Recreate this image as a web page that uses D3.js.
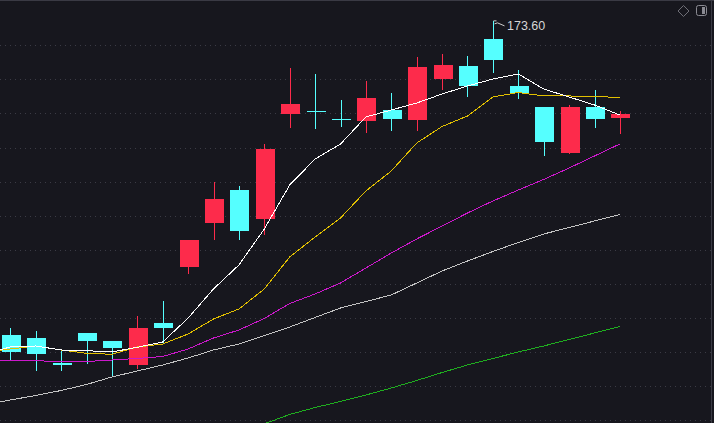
<!DOCTYPE html>
<html>
<head>
<meta charset="utf-8">
<title>K-Line</title>
<style>
  html, body { margin: 0; padding: 0; background: #17171e; overflow: hidden; }
  svg { display: block; }
</style>
</head>
<body>
<svg id="svg" width="714" height="423"></svg>
<script src="https://d3js.org/d3.v7.min.js"></script>
<script>
// candles, oldest first
const opens  = [63.03, 61.97, 53.17, 63.73, 60.92, 52.47, 67.25, 87.07, 102.56, 114.07, 103.86, 140.93, 141.95, 139.17, 138.46, 142.23, 138.82, 153.14, 157.72, 167.22, 150.68, 143.29, 127.20, 143.29, 139.52]
const closes = [57.15, 56.45, 52.47, 60.92, 58.56, 65.49, 65.49, 96.47, 110.90, 99.74, 128.50, 144.34, 141.74, 138.96, 146.45, 139.17, 157.37, 158.07, 150.78, 159.83, 148.11, 131.07, 143.29, 139.17, 140.82]
const highs  = [65.49, 64.44, 57.64, 63.73, 60.92, 69.72, 75.00, 96.47, 116.89, 115.48, 130.26, 157.01, 154.90, 145.75, 152.44, 148.21, 160.89, 161.94, 161.24, 173.60, 156.31, 143.40, 143.99, 149.27, 141.88]
const lows   = [54.23, 50.46, 50.46, 52.93, 48.35, 51.06, 60.11, 84.40, 96.58, 96.58, 98.34, 136.00, 135.65, 136.35, 134.24, 134.94, 134.94, 149.38, 146.91, 155.36, 146.10, 126.14, 126.74, 136.00, 133.89]

// moving averages, first value belongs to the bar just left of the view
const ma5   = [56.34, 58.81, 59.16, 57.75, 57.50, 57.05, 58.70, 60.57, 68.99, 79.22, 87.67, 100.34, 115.83, 124.98, 130.26, 139.77, 142.23, 144.69, 147.86, 150.68, 153.14, 154.90, 149.62, 146.81, 143.99, 140.47]
const ma10  = [57.05, 58.10, 59.16, 57.75, 56.59, 56.24, 58.81, 59.86, 63.38, 68.66, 72.18, 79.22, 90.49, 97.53, 104.21, 113.72, 120.76, 130.61, 136.42, 140.12, 146.81, 148.39, 147.16, 147.16, 146.98, 146.63]
const ma20  = [53.98, 53.98, 53.98, 53.63, 53.70, 54.23, 54.76, 55.46, 58.10, 61.97, 64.79, 68.84, 74.12, 77.46, 81.33, 86.61, 91.89, 96.82, 101.40, 105.97, 110.20, 114.07, 117.77, 121.81, 126.04, 130.26]
const ma60  = [38.39, 40.15, 41.73, 43.49, 45.61, 48.25, 50.36, 52.47, 54.93, 57.75, 59.86, 62.85, 65.85, 69.19, 72.53, 74.82, 77.11, 81.33, 85.56, 89.08, 92.42, 95.59, 98.58, 100.87, 103.16, 105.45]
const ma120 = [null, null, null, null, null, null, null, null, null, null,
               28.89, 31.77, 35.05, 37.51, 39.62, 41.91, 44.37, 47.01, 49.83, 52.47, 54.76, 57.05, 59.16, 61.45, 63.73, 66.02]

const priceTicks = [33, 45, 57, 69, 81, 93, 105, 117, 129, 141, 153, 165]
const highLabel = '173.60'

const width = 714
const height = 423
const upColor = '#fd2b4b'
const downColor = '#55ffff'

const svg = d3.select('#svg')

// x: bar index -> center
const xscale = d3.scaleLinear()
    .domain([0, 24])
    .range([10.3, 619.9])
const step = xscale(1) - xscale(0)
const bodyW = step * 0.75

const yscale = d3.scaleLinear()
    .domain([33, 165])
    .range([420.3, 45.3])

// dotted grid
svg.append('g')
    .selectAll('line')
    .data(priceTicks)
    .enter()
    .append('line')
    .attr('x1', 0)
    .attr('x2', 711)
    .attr('y1', d => Math.round(yscale(d)) + 0.5)
    .attr('y2', d => Math.round(yscale(d)) + 0.5)
    .attr('stroke', '#3b3b45')
    .attr('stroke-dasharray', '1 4')
    .attr('shape-rendering', 'crispEdges')

// borders
svg.append('line')
    .attr('x1', 0).attr('x2', width)
    .attr('y1', 0.5).attr('y2', 0.5)
    .attr('stroke', '#3a3a44')
svg.append('line')
    .attr('x1', 711.5).attr('x2', 711.5)
    .attr('y1', 0).attr('y2', height)
    .attr('stroke', '#3a3a44')

const bars = d3.range(opens.length).map(i => ({
    i, o: opens[i], c: closes[i], h: highs[i], l: lows[i]
}))
const col = d => d.c >= d.o ? upColor : downColor

const candles = svg.append('g').attr('shape-rendering', 'crispEdges')

// wicks
candles.selectAll('line')
    .data(bars)
    .enter()
    .append('line')
    .attr('x1', d => Math.round(xscale(d.i)) + 0.5)
    .attr('x2', d => Math.round(xscale(d.i)) + 0.5)
    .attr('y1', d => yscale(d.h))
    .attr('y2', d => yscale(d.l))
    .attr('stroke', col)

// bodies
candles.selectAll('rect')
    .data(bars)
    .enter()
    .append('rect')
    .attr('x', d => Math.round(xscale(d.i) - bodyW / 2) + 0.5)
    .attr('y', d => yscale(Math.max(d.o, d.c)))
    .attr('width', Math.round(bodyW))
    .attr('height', d => Math.max(1, Math.abs(yscale(d.o) - yscale(d.c))))
    .attr('fill', col)

// moving average lines
const series = [
    { values: ma120, color: '#1fae1f' },
    { values: ma60, color: '#c4c4c4' },
    { values: ma20, color: '#cc18cc' },
    { values: ma10, color: '#e2c000' },
    { values: ma5, color: '#ffffff' }
]
const line = d3.line()
    .defined(d => d != null)
    .x((d, i) => xscale(i - 1))
    .y(d => yscale(d))

svg.append('g')
    .selectAll('path')
    .data(series)
    .enter()
    .append('path')
    .attr('d', d => line(d.values))
    .attr('fill', 'none')
    .attr('stroke', d => d.color)
    .attr('stroke-width', 1)
    .attr('shape-rendering', 'crispEdges')

// highest price marker
const hi = d3.maxIndex(highs)
const hx = Math.round(xscale(hi)) + 0.5
const hy = yscale(highs[hi])
svg.append('path')
    .attr('d', `M${hx},${hy} h3 M${hx + 1},${hy + 3} l3,-1 l7,3`)
    .attr('fill', 'none')
    .attr('stroke', '#d0d0d0')
    .attr('stroke-width', 1)
svg.append('text')
    .attr('x', hx + 13.5)
    .attr('y', hy + 9.5)
    .attr('fill', '#d6d6d6')
    .attr('font-family', 'Liberation Sans, Arial, sans-serif')
    .attr('font-size', 12.5)
    .text(highLabel)

// top-right tool icons
svg.append('path')
    .attr('d', 'M683.5,5.5 l5.5,5.5 l-5.5,5.5 l-5.5,-5.5 z')
    .attr('fill', 'none')
    .attr('stroke', '#6e6e76')
svg.append('rect')
    .attr('x', 696.5).attr('y', 5.5)
    .attr('width', 10).attr('height', 10)
    .attr('rx', 2)
    .attr('fill', 'none')
    .attr('stroke', '#8a8a92')
svg.append('rect')
    .attr('x', 702).attr('y', 7)
    .attr('width', 3).attr('height', 7)
    .attr('fill', '#8a8a92')
</script>
</body>
</html>
